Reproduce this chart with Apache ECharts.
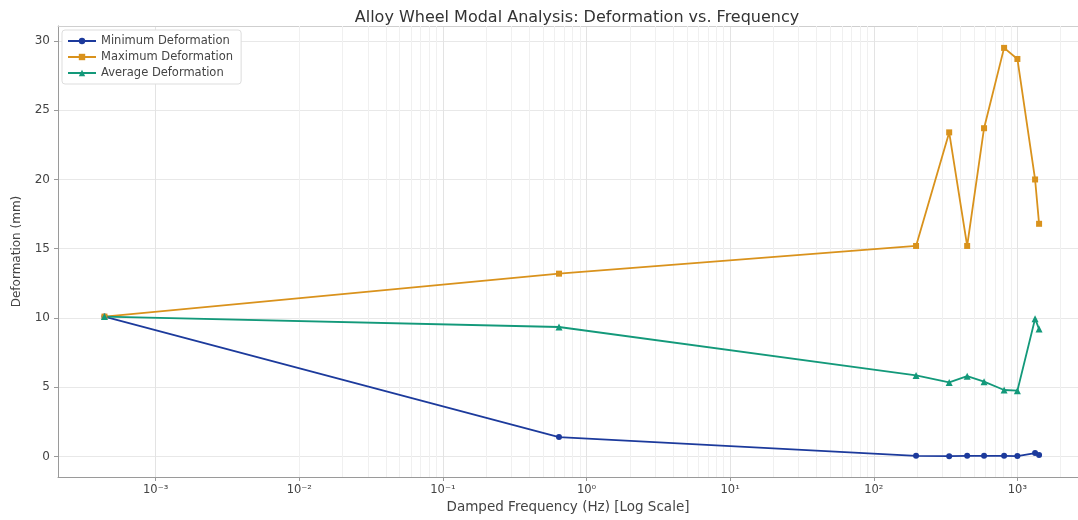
<!DOCTYPE html>
<html>
<head>
<meta charset="utf-8">
<script src="https://cdn.jsdelivr.net/npm/echarts@6/dist/echarts.min.js"></script>
<style>
html,body{margin:0;padding:0;background:#fff;}
#chart{width:1078px;height:520px;}
</style>
</head>
<body>
<div id="chart"></div>
<script>
// Damped frequency (Hz)
var frequencies = [0.00044, 0.643, 197, 335, 447, 586, 808, 1000, 1328, 1416];
var minDeformation = [10.1, 1.4, 0.05, 0.02, 0.05, 0.05, 0.05, 0.03, 0.25, 0.1];
var maxDeformation = [10.1, 13.2, 15.2, 23.4, 15.2, 23.7, 29.5, 28.7, 20.0, 16.8];
var avgDeformation = [10.1, 9.35, 5.85, 5.35, 5.8, 5.4, 4.8, 4.75, 9.95, 9.2];
var seriesNames = ['Minimum Deformation', 'Maximum Deformation', 'Average Deformation'];
var xTickExponents = [-3, -2, -1, 0, 1, 2, 3];
var yTicks = [0, 5, 10, 15, 20, 25, 30];

var xMin = Math.pow(10, -3.68), xMax = Math.pow(10, 3.422);
var yMin = -1.48, yMax = 31.08;

function pairs(ys){ return frequencies.map(function(f,i){ return [f, ys[i]]; }); }

// minor grid positions (2..9 x 10^n) inside range
var minorLines = [];
for (var e = -4; e <= 3; e++) {
  for (var m = 2; m <= 9; m++) {
    var v = m * Math.pow(10, e);
    if (v > xMin && v < xMax) minorLines.push({ xAxis: v });
  }
}

var supMap = {'-':'⁻','0':'⁰','1':'¹','2':'²','3':'³','4':'⁴','5':'⁵','6':'⁶','7':'⁷','8':'⁸','9':'⁹'};

var font = 'DejaVu Sans';
var textColor = '#444';
var colors = ['#1c3a9c', '#d9921c', '#13997a'];

var chart = echarts.init(document.getElementById('chart'));
chart.setOption({
  animation: false,
  backgroundColor: '#fff',
  color: colors,
  title: {
    text: 'Alloy Wheel Modal Analysis: Deformation vs. Frequency',
    left: 572, top: 5, textAlign: 'center',
    textStyle: { fontFamily: font, fontSize: 16, fontWeight: 'normal', color: '#333' }
  },
  legend: {
    orient: 'vertical', left: 62, top: 30,
    backgroundColor: '#fff', borderColor: '#ddd', borderWidth: 1, borderRadius: 3,
    padding: [5, 8, 5, 5], itemGap: 4, itemWidth: 28, itemHeight: 8,
    textStyle: { fontFamily: font, fontSize: 11.5, color: textColor },
    data: seriesNames
  },
  grid: {
    left: 58, right: 0, top: 26, bottom: 43
  },
  xAxis: [{
    type: 'log', logBase: 10, min: xMin, max: xMax,
    name: 'Damped Frequency (Hz) [Log Scale]', nameLocation: 'middle', nameGap: 23,
    nameTextStyle: { fontFamily: font, fontSize: 13.5, color: textColor },
    axisLine: { show: true, onZero: false, lineStyle: { color: '#9a9a9a', width: 1 } },
    axisTick: { show: true, length: 4, lineStyle: { color: '#9a9a9a' } },
    axisLabel: {
      showMinLabel: false, showMaxLabel: false, margin: 7,
      fontFamily: font, fontSize: 11.5, color: textColor,
      formatter: function (v) {
        var n = Math.round(Math.log(v) / Math.LN10);
        if (xTickExponents.indexOf(n) < 0) return '';
        return '10' + String(n).split('').map(function(c){ return supMap[c]; }).join('');
      }
    },
    splitLine: { show: true, lineStyle: { color: '#e3e3e3', width: 1 } }
  }, {
    type: 'log', logBase: 10, min: xMin, max: xMax, position: 'top',
    axisLine: { show: true, onZero: false, lineStyle: { color: '#cfcfcf', width: 1 } },
    axisTick: { show: false }, axisLabel: { show: false }, splitLine: { show: false }
  }],
  yAxis: {
    type: 'value', min: yMin, max: yMax,
    name: 'Deformation (mm)', nameLocation: 'middle', nameGap: 35,
    nameTextStyle: { fontFamily: font, fontSize: 12, color: textColor },
    axisLine: { show: true, onZero: false, lineStyle: { color: '#9a9a9a', width: 1 } },
    axisTick: { show: true, length: 4, lineStyle: { color: '#9a9a9a' } },
    axisLabel: {
      showMinLabel: false, showMaxLabel: false, margin: 8,
      fontFamily: font, fontSize: 12, color: textColor,
      formatter: function (v) { return yTicks.indexOf(v) >= 0 ? String(v) : ''; }
    },
    splitLine: { show: true, lineStyle: { color: '#e8e8e8', width: 1 } }
  },
  series: [
    {
      name: seriesNames[0], type: 'line', data: pairs(minDeformation),
      symbol: 'circle', symbolSize: 6, lineStyle: { width: 1.8 },
      z: 5,
      markLine: {
        silent: true, symbol: 'none', label: { show: false },
        lineStyle: { color: '#f0f0f0', width: 1, type: 'solid' },
        emphasis: { disabled: true },
        data: minorLines, z: 1
      }
    },
    {
      name: seriesNames[1], type: 'line', data: pairs(maxDeformation),
      symbol: 'rect', symbolSize: 6, lineStyle: { width: 1.8 }, z: 5
    },
    {
      name: seriesNames[2], type: 'line', data: pairs(avgDeformation),
      symbol: 'triangle', symbolSize: 7, lineStyle: { width: 1.8 }, z: 5
    }
  ]
});
</script>
</body>
</html>
